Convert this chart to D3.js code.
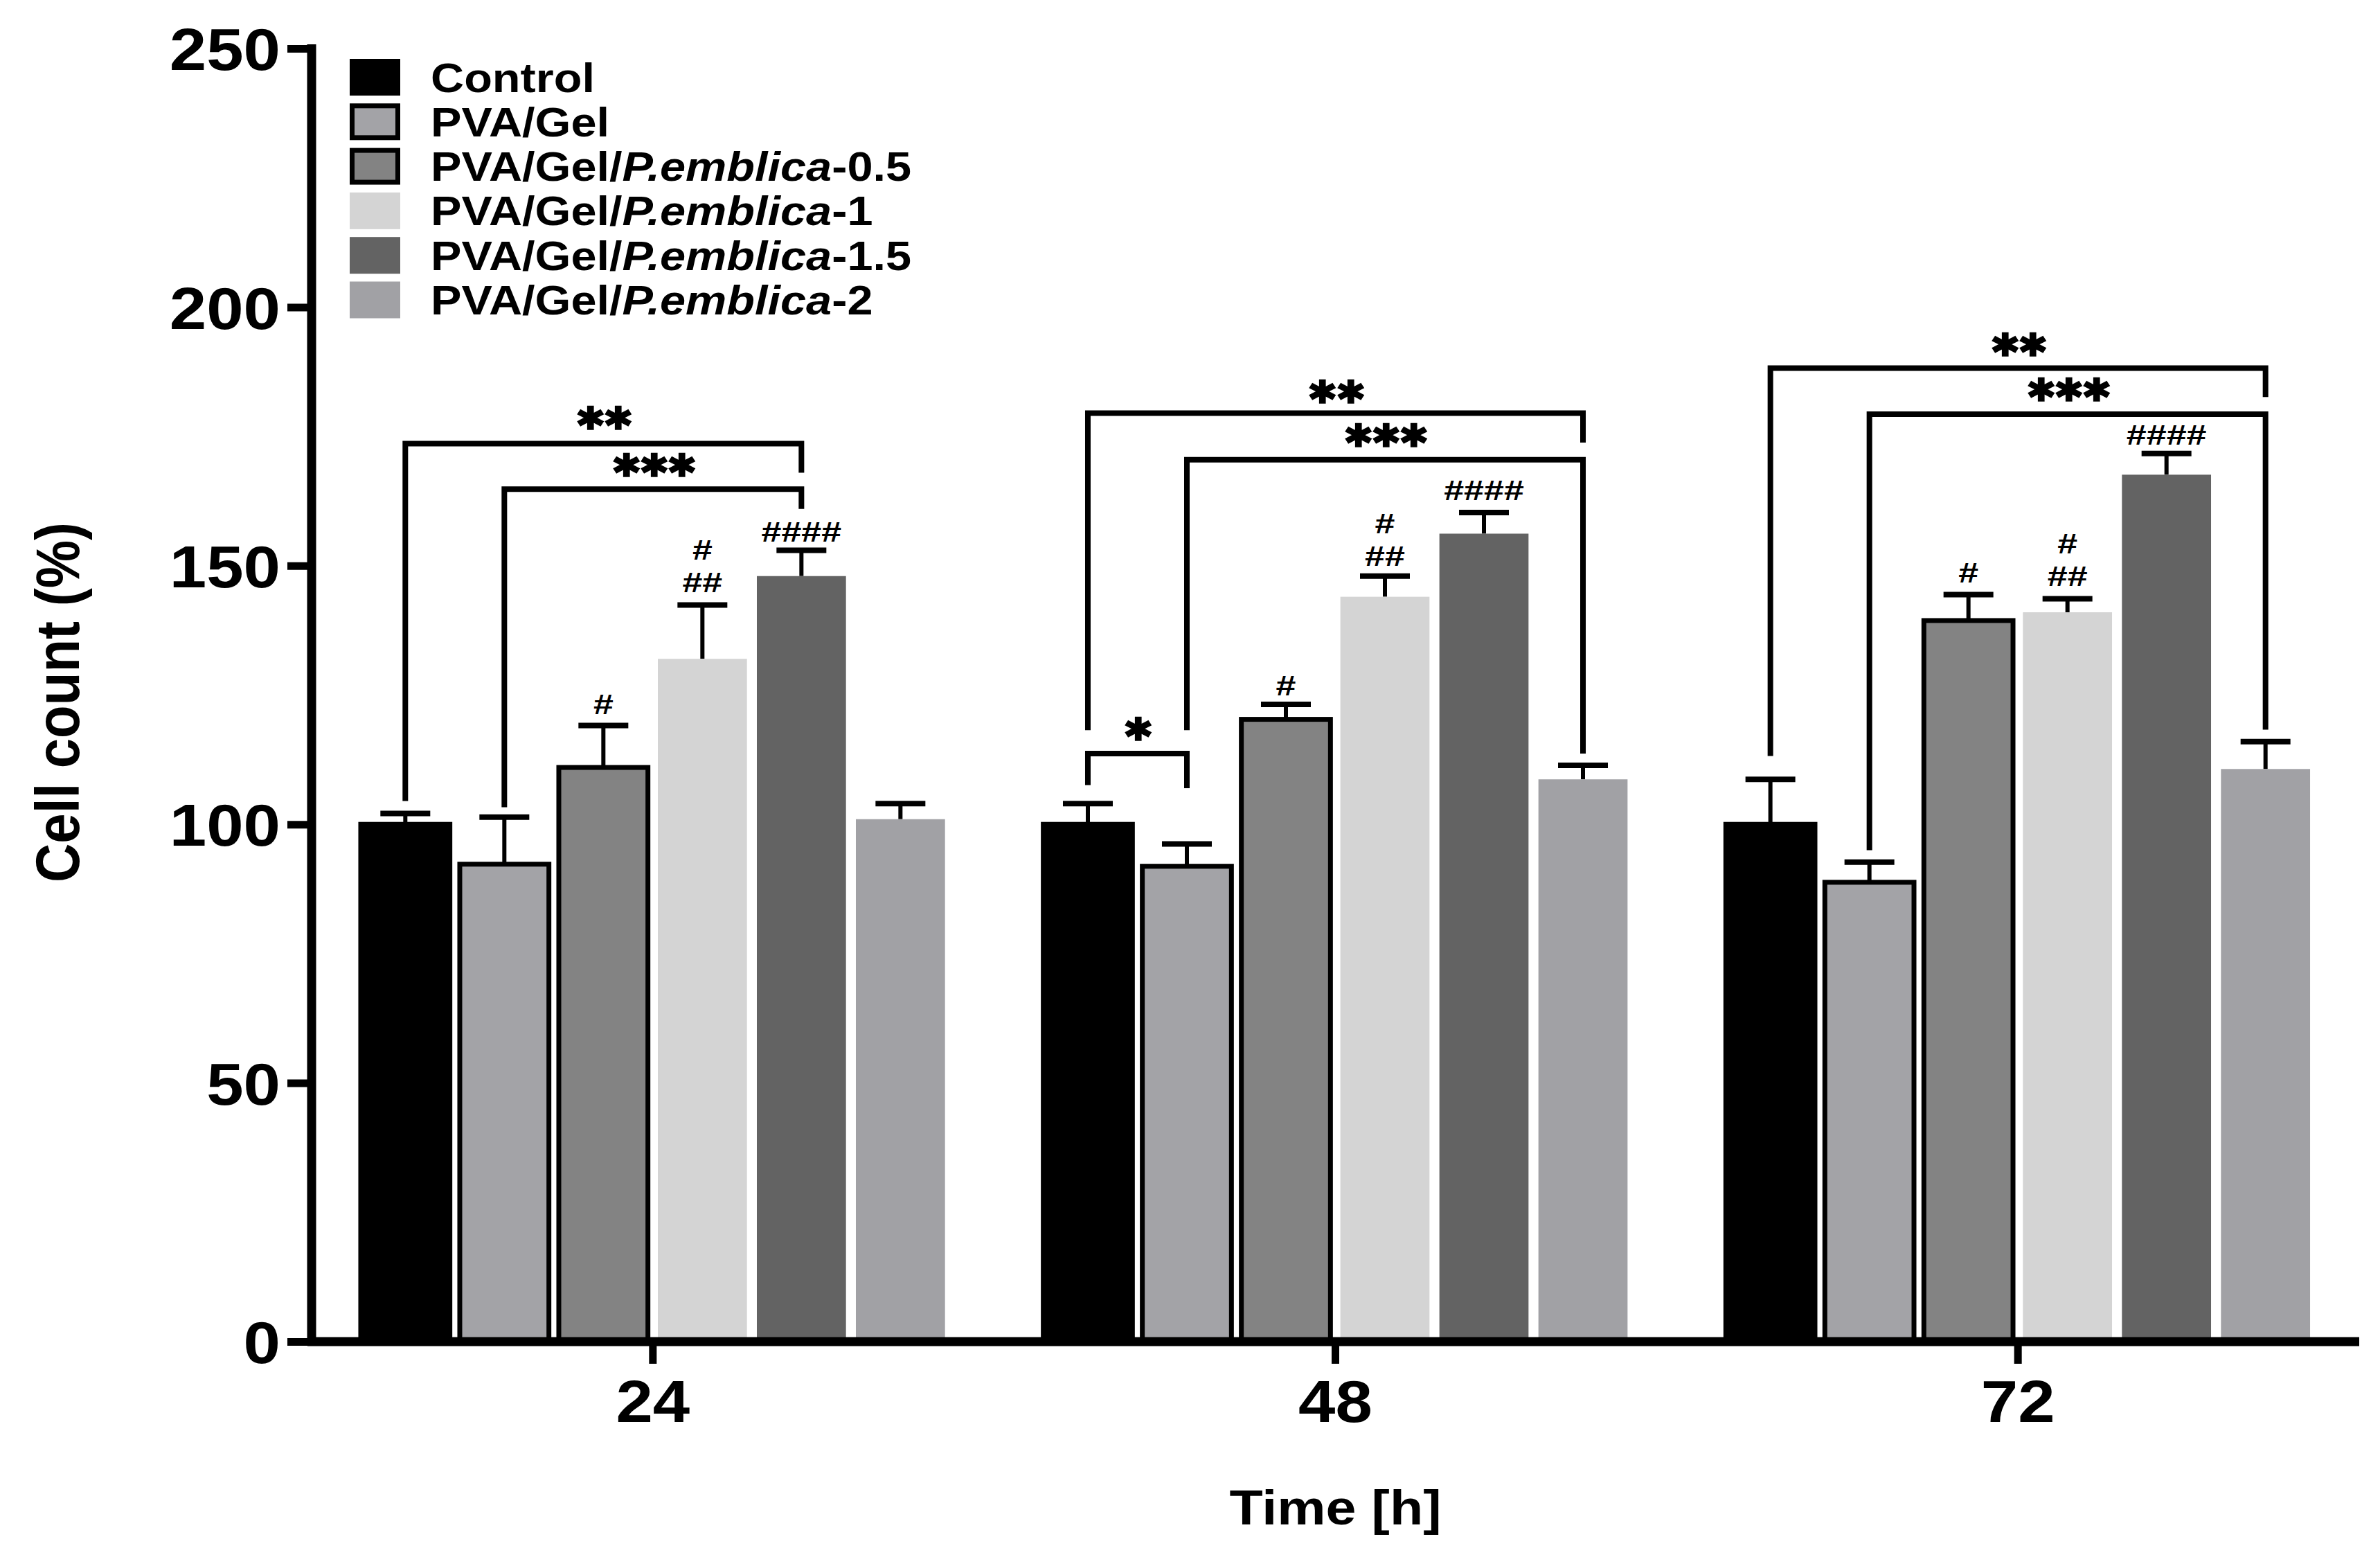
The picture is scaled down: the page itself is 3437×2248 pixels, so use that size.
<!DOCTYPE html>
<html>
<head>
<meta charset="utf-8">
<script src="https://cdn.jsdelivr.net/npm/d3@7"></script>
<style>
  html, body { margin: 0; padding: 0; background: #ffffff; }
  svg { display: block; }
  text { font-family: "Liberation Sans", Arial, Helvetica, sans-serif; font-weight: bold; fill: #000; }
</style>
</head>
<body>
<script>
// ---------------- data ----------------
const groups = ["24", "48", "72"];
const seriesNames = ["Control", "PVA/Gel", "PVA/Gel/P.emblica-0.5", "PVA/Gel/P.emblica-1", "PVA/Gel/P.emblica-1.5", "PVA/Gel/P.emblica-2"];
const seriesFill = ["#000000", "#a3a3a7", "#838383", "#d4d4d4", "#636363", "#a1a1a5"];
const seriesBorder = [true, true, true, false, false, false];

const means24 = [100, 92.3, 111, 132, 148, 101];
const means48 = [100, 91.9, 120.3, 144, 156.2, 108.7];
const means72 = [100, 88.8, 139.4, 141, 167.6, 110.7];
const err24 = [2.1, 9.1, 8.1, 10.4, 5.0, 3.0];
const err48 = [4.0, 4.3, 2.9, 4.0, 4.1, 2.7];
const err72 = [8.7, 3.9, 5.0, 2.6, 4.1, 5.3];

const yTicks = [0, 50, 100, 150, 200, 250];

// significance brackets (value units)
const bracketGroup = ["24", "24", "48", "48", "48", "72", "72"];
const bracketFrom = [0, 1, 0, 1, 0, 0, 1];
const bracketTo = [4, 4, 5, 5, 1, 5, 5];
const bracketTop = [173.6, 164.8, 179.5, 170.5, 113.7, 188.2, 179.3];
const bracketLeftEnd = [104.5, 103.3, 118.2, 118.2, 107.6, 113.2, 95.0];
const bracketRightEnd = [168.0, 161.0, 173.8, 113.7, 107.0, 182.6, 118.3];
const bracketLabel = ["**", "***", "**", "***", "*", "**", "***"];
const bracketLabelY = [178.6, 169.5, 183.6, 175.2, 118.5, 192.8, 184.0];

// hash marks above bars (y = centre of the mark)
const hashGroup = ["24", "24", "24", "24", "48", "48", "48", "48", "72", "72", "72", "72"];
const hashSeries = [2, 3, 3, 4, 2, 3, 3, 4, 2, 3, 3, 4];
const hashText = ["#", "#", "##", "####", "#", "#", "##", "####", "#", "#", "##", "####"];
const hashY = [123.2, 153.0, 146.7, 156.6, 126.8, 158.1, 151.9, 164.6, 148.6, 154.2, 148.0, 175.3];

// ---------------- layout ----------------
const W = 3437, H = 2248;
const SX = 1.13;                 // horizontal stretch of the lettering
const axisX = 450, axisRight = 3407;
const y0px = 1937, y250px = 70;

const svg = d3.select("body").append("svg").attr("width", W).attr("height", H);

const y = d3.scaleLinear().domain([0, 250]).range([y0px, y250px]);
const xG = d3.scaleBand().domain(groups).range([axisX, axisRight]).paddingInner(0.144).paddingOuter(0.072);
const xS = d3.scaleBand().domain(d3.range(seriesNames.length)).range([0, xG.bandwidth()]).paddingInner(0.1).paddingOuter(0);

const meansBy = { "24": means24, "48": means48, "72": means72 };
const errBy = { "24": err24, "48": err48, "72": err72 };

function stext(parent, x, yy, txt, size, anchor) {
  return parent.append("text")
    .attr("transform", `translate(${x},${yy}) scale(${SX},1)`)
    .attr("font-size", size)
    .attr("text-anchor", anchor || "middle")
    .text(txt);
}
const cx = (g, s) => xG(g) + xS(s) + xS.bandwidth() / 2;

// ---------------- bars ----------------
const barData = [];
groups.forEach(g => seriesNames.forEach((n, i) => barData.push({ g, i, v: meansBy[g][i], e: errBy[g][i] })));

const eb = svg.append("g");
barData.forEach(d => {
  const x = cx(d.g, d.i);
  eb.append("line").attr("x1", x).attr("x2", x).attr("y1", y(d.v)).attr("y2", y(d.v + d.e))
    .attr("stroke", "#000").attr("stroke-width", 6);
  eb.append("line").attr("x1", x - 36).attr("x2", x + 36).attr("y1", y(d.v + d.e)).attr("y2", y(d.v + d.e))
    .attr("stroke", "#000").attr("stroke-width", 8);
});

svg.append("g").selectAll("rect").data(barData).join("rect")
  .attr("x", d => xG(d.g) + xS(d.i))
  .attr("y", d => y(d.v))
  .attr("width", xS.bandwidth())
  .attr("height", d => y(0) - y(d.v))
  .attr("fill", d => seriesFill[d.i])
  .attr("stroke", d => seriesBorder[d.i] ? "#000" : "none")
  .attr("stroke-width", 7);

// ---------------- axes ----------------
const yAxis = svg.append("g").attr("transform", `translate(${axisX},0)`)
  .call(d3.axisLeft(y).tickValues(yTicks).tickSize(35).tickSizeOuter(0).tickPadding(10));
yAxis.select(".domain").attr("stroke", "#000").attr("stroke-width", 13).attr("d", `M0,${y250px - 6}V${y0px}`);
yAxis.selectAll(".tick line").attr("stroke", "#000").attr("stroke-width", 11);
yAxis.selectAll(".tick text")
  .attr("font-size", 85)
  .attr("font-family", '"Liberation Sans", Arial, sans-serif')
  .attr("font-weight", "bold")
  .attr("dy", "0.36em")
  .attr("x", null)
  .attr("transform", `translate(-45,0) scale(${SX},1)`);

const xAxis = svg.append("g").attr("transform", `translate(0,${y0px})`)
  .call(d3.axisBottom(xG).tickSize(32).tickSizeOuter(0).tickPadding(30));
xAxis.select(".domain").attr("stroke", "#000").attr("stroke-width", 13).attr("d", `M${axisX - 6},0H${axisRight}`);
xAxis.selectAll(".tick line").attr("stroke", "#000").attr("stroke-width", 11);
xAxis.selectAll(".tick text")
  .attr("font-size", 85)
  .attr("font-family", '"Liberation Sans", Arial, sans-serif')
  .attr("font-weight", "bold")
  .attr("y", null).attr("dy", null)
  .attr("transform", `translate(0,116) scale(${SX},1)`);

// axis titles
stext(svg, (axisX + axisRight) / 2, 2201, "Time [h]", 70, "middle");
svg.append("text")
  .attr("transform", `translate(114,1014) scale(${SX},1) rotate(-90)`)
  .attr("font-size", 78)
  .attr("text-anchor", "middle")
  .text("Cell count (%)");

// ---------------- brackets ----------------
const br = svg.append("g");
bracketLabel.forEach((lab, k) => {
  const g = bracketGroup[k];
  const xl = cx(g, bracketFrom[k]), xr = cx(g, bracketTo[k]);
  br.append("path")
    .attr("d", `M${xl},${y(bracketLeftEnd[k])}V${y(bracketTop[k])}H${xr}V${y(bracketRightEnd[k])}`)
    .attr("fill", "none").attr("stroke", "#000").attr("stroke-width", 8).attr("stroke-linejoin", "miter");
  const fs = 46;
  br.append("text")
    .attr("transform", `translate(${(xl + xr) / 2},${y(bracketLabelY[k]) + 0.36 * fs}) scale(${SX},1)`)
    .attr("font-family", '"DejaVu Sans", sans-serif')
    .attr("font-size", fs)
    .attr("letter-spacing", -3)
    .attr("text-anchor", "middle")
    .text(lab.replace(/\*/g, "\u2731"));
});

// hash marks
const HSX = 1.3, HFS = 40;
hashText.forEach((t, k) => {
  svg.append("text")
    .attr("transform", `translate(${cx(hashGroup[k], hashSeries[k])},${y(hashY[k]) + 0.35 * HFS}) scale(${HSX},1)`)
    .attr("font-size", HFS)
    .attr("text-anchor", "middle")
    .text(t);
});

// ---------------- legend ----------------
const lg = svg.append("g");
seriesNames.forEach((n, i) => {
  const cy = 111.5 + i * 64.3;
  lg.append("rect")
    .attr("x", seriesBorder[i] ? 508.5 : 505).attr("y", cy - 26.5 + (seriesBorder[i] ? 3.5 : 0))
    .attr("width", seriesBorder[i] ? 66 : 73).attr("height", seriesBorder[i] ? 46 : 53)
    .attr("fill", seriesFill[i])
    .attr("stroke", seriesBorder[i] ? "#000" : "none").attr("stroke-width", 7);
  const t = lg.append("text")
    .attr("transform", `translate(622,${cy + 21}) scale(${SX},1)`)
    .attr("font-size", 59);
  const parts = n.split("P.emblica");
  if (parts.length === 2) {
    t.append("tspan").text(parts[0]);
    t.append("tspan").attr("font-style", "italic").text("P.emblica");
    t.append("tspan").text(parts[1]);
  } else {
    t.text(n);
  }
});
</script>
</body>
</html>
